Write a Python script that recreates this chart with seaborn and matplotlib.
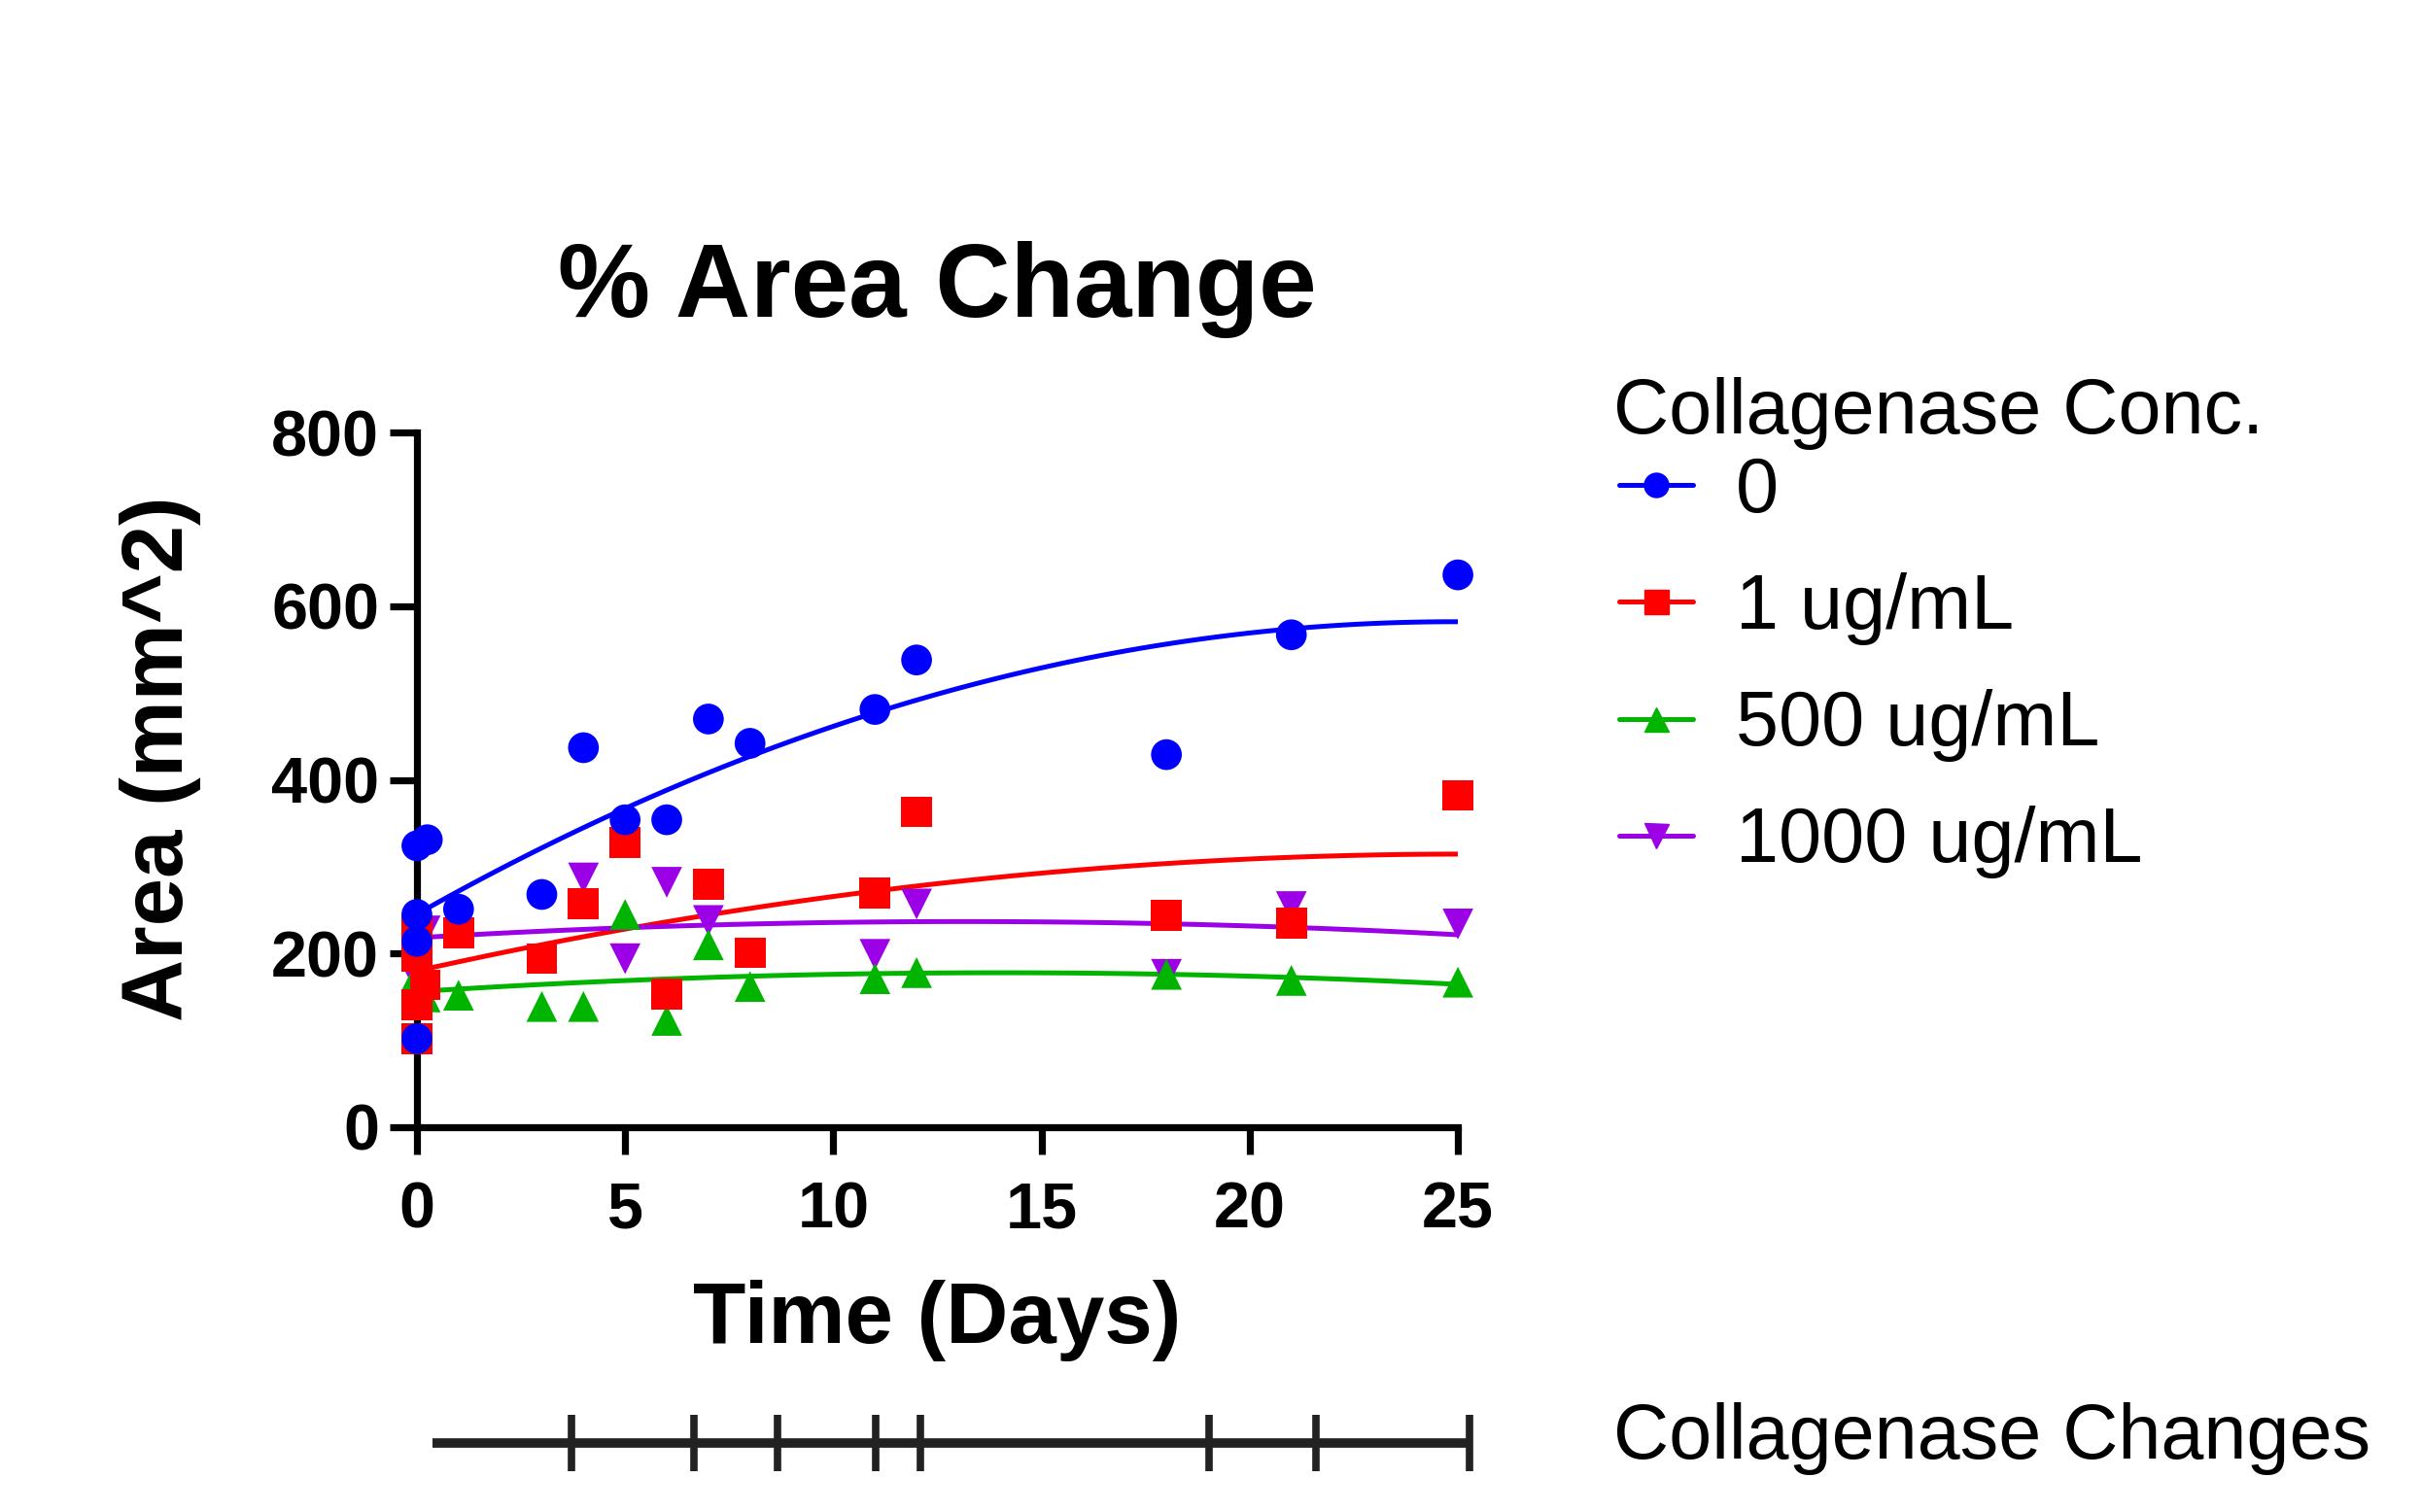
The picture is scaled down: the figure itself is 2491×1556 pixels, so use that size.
import numpy as np
import pandas as pd
import matplotlib
matplotlib.use("Agg")
import matplotlib.pyplot as plt
from matplotlib.lines import Line2D
import seaborn as sns

# Datos
conc_labels = ["0", "1 ug/mL", "500 ug/mL", "1000 ug/mL"]
colors = ["#0000FF", "#FF0000", "#00B400", "#9B00E6"]
markers = ["o", "s", "^", "v"]

days_0 = [0, 0.25, 0, 0, 0, 1, 3, 4, 5, 6, 7, 8, 11, 12, 18, 21, 25]
area_0 = [324, 331, 245, 214, 102, 251, 268, 437, 354, 354, 470, 442, 481, 538, 429, 567, 636]

days_1 = [0, 0, 0.2, 0, 0, 1, 3, 4, 5, 6, 7, 8, 11, 12, 18, 21, 25]
area_1 = [226, 197, 164, 141, 102, 224, 194, 257, 328, 153, 280, 201, 270, 363, 244, 235, 382]

days_500 = [0, 0.2, 1, 3, 4, 5, 6, 7, 8, 11, 12, 18, 21, 25]
area_500 = [175, 150, 152, 139, 139, 245, 123, 210, 162, 171, 178, 176, 169, 167]

days_1000 = [0.2, 0, 4, 5, 6, 7, 11, 12, 18, 21, 25]
area_1000 = [226, 170, 287, 194, 282, 238, 199, 257, 176, 254, 234]

# Dias en que se cambio la colagenasa (linea inferior)
change_days = [3.72, 6.65, 8.66, 11.02, 12.09, 19.02, 21.6, 25.27]
timeline_start = 0.385

x_ticks = [0, 5, 10, 15, 20, 25]
y_ticks = [0, 200, 400, 600, 800]

# Tabla larga para seaborn
frames = []
for lab, d, a in zip(conc_labels,
                     [days_0, days_1, days_500, days_1000],
                     [area_0, area_1, area_500, area_1000]):
    frames.append(pd.DataFrame({"day": d, "area": a, "conc": lab}))
df = pd.concat(frames, ignore_index=True)

sns.set_theme(style="ticks")
plt.rcParams["font.family"] = ["Liberation Sans", "DejaVu Sans"]
plt.rcParams["text.color"] = "black"

fig = plt.figure(figsize=(24.91, 15.56), dpi=100)
ax = fig.add_axes([0.1722, 0.2545, 0.4300, 0.4595])

# Curvas de ajuste (polinomio de 2do orden)
for lab, col in zip(conc_labels, colors):
    sub = df[df["conc"] == lab]
    sns.regplot(data=sub, x="day", y="area", order=2, ci=None, scatter=False,
                truncate=True, ax=ax, line_kws=dict(color=col, lw=3.6))

# Puntos (orden inverso: azul queda arriba)
sns.scatterplot(data=df.iloc[::-1], x="day", y="area", hue="conc", style="conc",
                hue_order=conc_labels, style_order=conc_labels,
                palette=colors, markers=markers, s=520, linewidth=0,
                legend=False, clip_on=False, zorder=3, ax=ax)

ax.set_xlim(0, 25)
ax.set_ylim(0, 800)
ax.set_xticks(x_ticks)
ax.set_yticks(y_ticks)
sns.despine(ax=ax)
for sp in ["left", "bottom"]:
    ax.spines[sp].set_linewidth(5.2)
    ax.spines[sp].set_color("black")
    ax.spines[sp].set_capstyle("projecting")
ax.tick_params(axis="both", length=20, width=5.2, color="black",
               labelsize=48, labelcolor="black")
ax.tick_params(axis="x", pad=20)
ax.tick_params(axis="y", pad=8)
for t in ax.get_xticklabels() + ax.get_yticklabels():
    t.set_fontweight("bold")

ax.set_xlabel("Time (Days)", fontsize=64, fontweight="bold", color="black")
ax.xaxis.label.set_va("baseline")
ax.xaxis.set_label_coords(0.5, -0.3105)
ax.set_ylabel("Area (mm^2)", fontsize=64, fontweight="bold", color="black")
ax.yaxis.label.set_va("center")
ax.yaxis.set_label_coords(-0.2465, 0.531)

fig.text(0.387, 0.7905, "% Area Change", ha="center", va="baseline",
         fontsize=77, fontweight="bold", color="black")

# Leyenda
fig.text(0.6664, 0.7134, "Collagenase Conc.", ha="left", va="baseline",
         fontsize=57, color="black")
handles = [Line2D([], [], color=c, marker=m, markersize=18, lw=3.6)
           for c, m in zip(colors, markers)]
fig.legend(handles, conc_labels, loc="upper left",
           bbox_to_anchor=(0.6688, 0.6986), frameon=False, fontsize=57,
           labelcolor="black", handlelength=0.96, handletextpad=0.55,
           labelspacing=0.57, borderpad=0, borderaxespad=0)

# Linea de cambios de colagenasa
tax = fig.add_axes([0.1722, 0.0206, 0.4300, 0.05])
tax.set_xlim(0, 25)
tax.set_ylim(-1, 1)
tax.axis("off")
tax.plot([timeline_start, change_days[-1]], [0, 0], color="#222222",
         lw=7, solid_capstyle="butt", clip_on=False)
tax.plot(change_days, [0] * len(change_days), ls="none", marker="|",
         markersize=42, mew=5.5, color="#222222", clip_on=False)
fig.text(0.6664, 0.0353, "Collagenase Changes", ha="left", va="baseline",
         fontsize=57, color="black")

plt.savefig("out.png", dpi=100)
